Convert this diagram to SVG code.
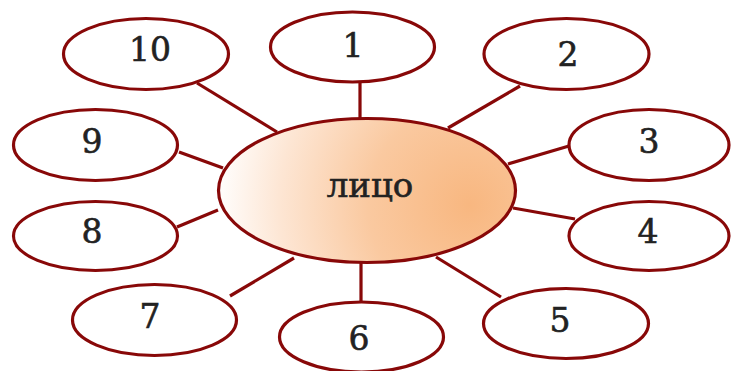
<svg xmlns="http://www.w3.org/2000/svg" width="731" height="371" viewBox="0 0 731 371">
  <defs>
    <radialGradient id="face" gradientUnits="userSpaceOnUse" cx="470" cy="205" r="255">
      <stop offset="0" stop-color="#F8B780"/>
      <stop offset="0.4" stop-color="#FAC9A0"/>
      <stop offset="0.75" stop-color="#FDE6D4"/>
      <stop offset="1" stop-color="#FFFFFF"/>
    </radialGradient>
  </defs>
  <style>
    .edge { stroke: #880808; stroke-width: 3.2; fill: none; }
    .node { fill: #FFFFFF; stroke: #880808; stroke-width: 3.2; }
    .hub { fill: url(#face); stroke: #880808; stroke-width: 3.2; }
    .lbl { font-family: "DejaVu Serif", "Liberation Serif", serif; font-size: 33px; fill: #222222; stroke: #222222; stroke-width: 0.6; text-anchor: middle; }
    .big { font-size: 34px; }
  </style>
  <rect width="731" height="371" fill="#FFFFFF"/>
  <g id="connectors">
    <line class="edge" x1="197" y1="83" x2="277" y2="132"/>
    <line class="edge" x1="360" y1="82" x2="360" y2="119"/>
    <line class="edge" x1="520" y1="86" x2="448" y2="128"/>
    <line class="edge" x1="179" y1="152" x2="223" y2="168"/>
    <line class="edge" x1="569" y1="146" x2="508" y2="164"/>
    <line class="edge" x1="177" y1="227" x2="218" y2="210"/>
    <line class="edge" x1="513" y1="208" x2="575" y2="219"/>
    <line class="edge" x1="230" y1="296" x2="294" y2="258"/>
    <line class="edge" x1="361" y1="262" x2="361" y2="302"/>
    <line class="edge" x1="436" y1="257" x2="501" y2="297"/>
  </g>
  <g id="node-center">
    <ellipse class="hub" cx="367" cy="190.5" rx="148.5" ry="72"/>
    <text class="lbl big" x="370" y="197">лицо</text>
  </g>
  <g id="node-1">
    <ellipse class="node" cx="352.5" cy="47" rx="82" ry="35"/>
    <text class="lbl" x="353" y="57">1</text>
  </g>
  <g id="node-2">
    <ellipse class="node" cx="566.5" cy="54" rx="82.5" ry="35.5"/>
    <text class="lbl" x="568" y="66">2</text>
  </g>
  <g id="node-3">
    <ellipse class="node" cx="649" cy="145" rx="80" ry="35.5"/>
    <text class="lbl" x="649" y="153">3</text>
  </g>
  <g id="node-4">
    <ellipse class="node" cx="649" cy="236" rx="80" ry="34.5"/>
    <text class="lbl" x="648" y="243">4</text>
  </g>
  <g id="node-5">
    <ellipse class="node" cx="566" cy="323.5" rx="82.5" ry="35"/>
    <text class="lbl" x="560" y="332">5</text>
  </g>
  <g id="node-6">
    <ellipse class="node" cx="361.5" cy="337" rx="82" ry="35"/>
    <text class="lbl" x="359" y="350">6</text>
  </g>
  <g id="node-7">
    <ellipse class="node" cx="154.5" cy="320" rx="82" ry="35.5"/>
    <text class="lbl" x="150" y="328">7</text>
  </g>
  <g id="node-8">
    <ellipse class="node" cx="95.5" cy="236" rx="82" ry="34.5"/>
    <text class="lbl" x="92" y="243">8</text>
  </g>
  <g id="node-9">
    <ellipse class="node" cx="95.5" cy="145" rx="82" ry="35.5"/>
    <text class="lbl" x="92" y="153">9</text>
  </g>
  <g id="node-10">
    <ellipse class="node" cx="146" cy="54" rx="82.5" ry="35.5"/>
    <text class="lbl" x="150" y="61">10</text>
  </g>
</svg>
